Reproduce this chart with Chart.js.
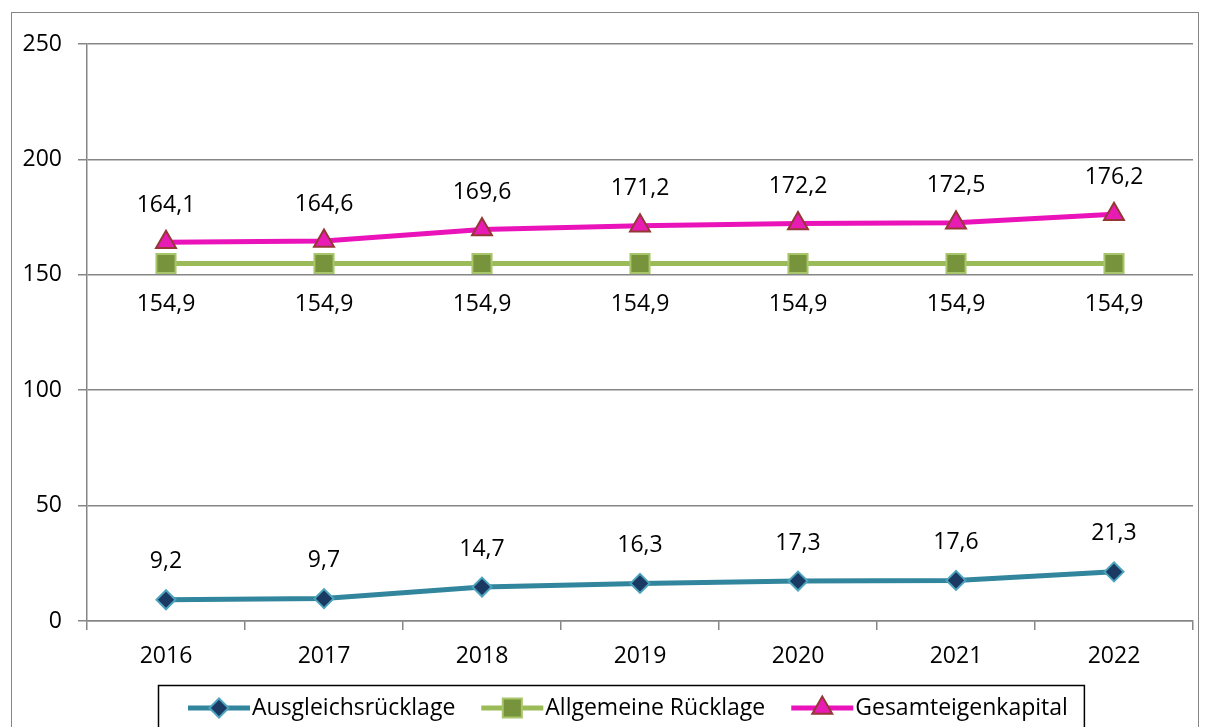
<!DOCTYPE html>
<html>
<head>
<meta charset="utf-8">
<script src="https://cdn.jsdelivr.net/npm/chart.js@4.4.1/dist/chart.umd.min.js"></script>
<style>
    body { margin: 0; background: #fff; }
    #wrap { width: 1209px; height: 727px; }
</style>
</head>
<body>
<div id="wrap"><canvas id="graficoEigenkapital" width="1209" height="727"></canvas></div>
<script>
// Daten
const jahre = ['2016', '2017', '2018', '2019', '2020', '2021', '2022'];
const ausgleichsruecklage = [9.2, 9.7, 14.7, 16.3, 17.3, 17.6, 21.3];
const allgemeineRuecklage = [154.9, 154.9, 154.9, 154.9, 154.9, 154.9, 154.9];
const gesamteigenkapital = [164.1, 164.6, 169.6, 171.2, 172.2, 172.5, 176.2];
const yTicks = [0, 50, 100, 150, 200, 250];

const FONT = '"Open Sans", "Noto Sans", sans-serif';
const GRAU = '#868686';

// Werte-Beschriftung (Abstand in px zum Punkt)
const labelAbstand = [-38, 41, -37];

const fmt = v => v.toFixed(1).replace('.', ',');

const wertePlugin = {
    id: 'werte',
    afterDatasetsDraw(chart) {
        const ctx = chart.ctx;
        ctx.save();
        ctx.font = '23px ' + FONT;
        ctx.fillStyle = '#000';
        ctx.textAlign = 'center';
        ctx.textBaseline = 'middle';
        chart.data.datasets.forEach((ds, i) => {
            chart.getDatasetMeta(i).data.forEach((pt, j) => {
                ctx.fillText(fmt(ds.data[j]), pt.x, pt.y + labelAbstand[i]);
            });
        });
        ctx.restore();
    }
};

const rahmenPlugin = {
    id: 'rahmen',
    afterDraw(chart) {
        const ctx = chart.ctx;
        ctx.save();
        ctx.strokeStyle = GRAU;
        ctx.lineWidth = 1;
        ctx.strokeRect(11.5, 12.5, 1187, 740);

        // Legende
        ctx.font = '23px ' + FONT;
        ctx.textBaseline = 'middle';
        const probe = 62, gap = 2, abstand = 26;
        const items = chart.data.datasets.map(ds => ({ ds, w: ctx.measureText(ds.label).width }));
        let gesamt = 0;
        items.forEach((it, i) => { gesamt += probe + gap + it.w + (i < items.length - 1 ? abstand : 0); });
        const boxL = 30, boxR = 16;
        let x = Math.round(621 - (gesamt + boxL + boxR) / 2);
        const y = 708;
        ctx.strokeStyle = '#000';
        ctx.lineWidth = 1.5;
        ctx.strokeRect(x + 0.5, 685.5, gesamt + boxL + boxR, 60);
        x += boxL;
        items.forEach(it => {
            const ds = it.ds;
            ctx.strokeStyle = ds.borderColor;
            ctx.lineWidth = ds.borderWidth;
            ctx.beginPath();
            ctx.moveTo(x, y);
            ctx.lineTo(x + probe, y);
            ctx.stroke();
            ctx.fillStyle = ds.pointBackgroundColor;
            ctx.strokeStyle = ds.pointBorderColor;
            ctx.lineWidth = ds.pointBorderWidth;
            Chart.helpers.drawPoint(ctx, { pointStyle: ds.pointStyle, radius: ds.pointRadius, rotation: 0, borderWidth: ds.pointBorderWidth }, x + probe / 2, y);
            ctx.fillStyle = '#000';
            ctx.textAlign = 'left';
            ctx.fillText(ds.label, x + probe + gap, y);
            x += probe + gap + it.w + abstand;
        });
        ctx.restore();
    }
};

new Chart(document.getElementById('graficoEigenkapital'), {
    type: 'line',
    data: {
        labels: jahre,
        datasets: [{
            label: 'Ausgleichsrücklage',
            data: ausgleichsruecklage,
            borderColor: '#31859C',
            borderWidth: 5,
            pointStyle: 'rectRot',
            pointRadius: 9.5,
            pointBackgroundColor: '#1B3A63',
            pointBorderColor: '#4BA3BE',
            pointBorderWidth: 2
        }, {
            label: 'Allgemeine Rücklage',
            data: allgemeineRuecklage,
            borderColor: '#9BBB59',
            borderWidth: 5,
            pointStyle: 'rect',
            pointRadius: 13.5,
            pointBackgroundColor: '#77933C',
            pointBorderColor: '#A7C56A',
            pointBorderWidth: 2
        }, {
            label: 'Gesamteigenkapital',
            data: gesamteigenkapital,
            borderColor: '#EA12B9',
            borderWidth: 5,
            pointStyle: 'triangle',
            pointRadius: 11.5,
            pointBackgroundColor: '#E81CB5',
            pointBorderColor: '#953735',
            pointBorderWidth: 2
        }]
    },
    options: {
        responsive: false,
        animation: false,
        devicePixelRatio: 1,
        layout: { padding: { top: 44, right: 16, left: 0, bottom: 50 } },
        plugins: { legend: { display: false }, tooltip: { enabled: false } },
        scales: {
            x: {
                offset: true,
                grid: { offset: true, drawOnChartArea: false, tickLength: 9, color: GRAU, lineWidth: 1.5 },
                border: { color: GRAU, width: 1.5 },
                ticks: { color: '#000', font: { family: FONT, size: 23 }, padding: 13, maxRotation: 0 },
                afterFit: s => { s.height = 56; }
            },
            y: {
                min: 0,
                max: 250,
                afterBuildTicks: s => { s.ticks = yTicks.map(v => ({ value: v })); },
                grid: { tickLength: 9, color: GRAU, lineWidth: 1.5 },
                border: { color: GRAU, width: 1.5 },
                ticks: { color: '#000', font: { family: FONT, size: 23 }, padding: 16 },
                afterFit: s => { s.width = 87; }
            }
        }
    },
    plugins: [wertePlugin, rahmenPlugin]
});
</script>
</body>
</html>
